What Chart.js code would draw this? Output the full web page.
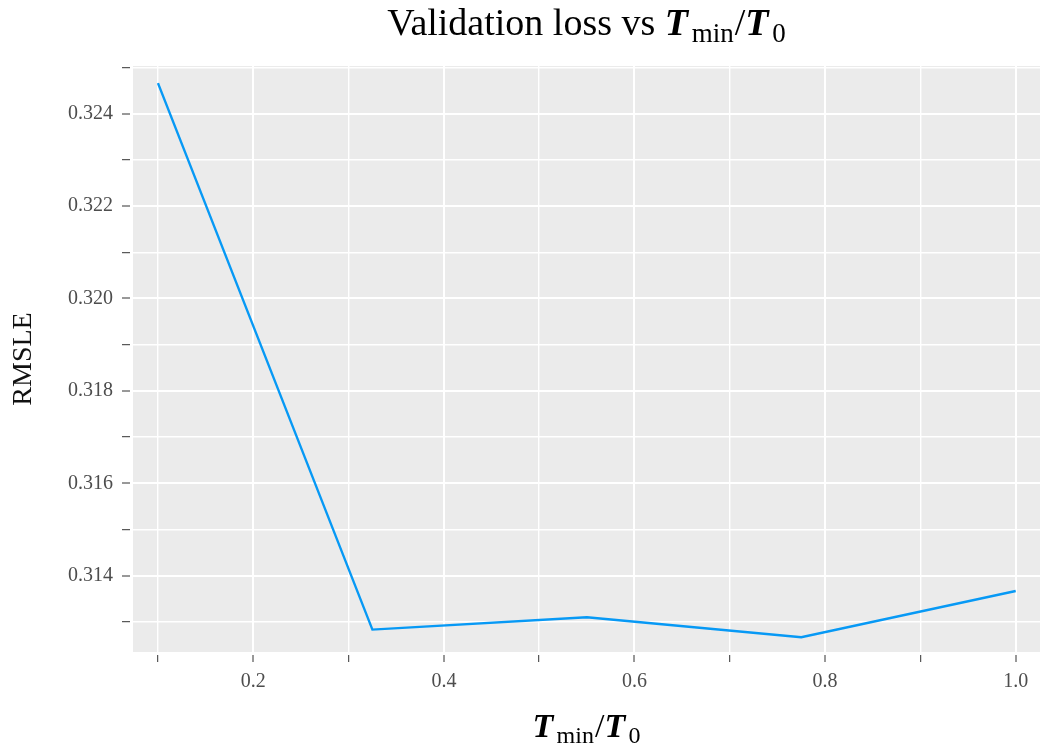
<!DOCTYPE html>
<html>
<head>
<meta charset="utf-8">
<title>Validation loss</title>
<script src="https://cdn.jsdelivr.net/npm/chart.js"></script>
<style>
  body { margin: 0; background: #ffffff; }
  #wrap { position: relative; width: 1040px; height: 752px; }
</style>
</head>
<body>
<div id="wrap"><canvas id="canvas"></canvas></div>
<script>
// T_min / T_0 ratios and validation RMSLE
var ratios = [0.1, 0.325, 0.55, 0.775, 1.0];
var rmsle = [0.32466, 0.312835, 0.313101, 0.312669, 0.313669];

var serif = "'Liberation Serif', 'DejaVu Serif', serif";

// draws pieces of text one after another, centred on cx
function drawRich(ctx, parts, cx, baseline) {
    var total = 0;
    parts.forEach(function (p) {
        ctx.font = p.font;
        p.w = ctx.measureText(p.text).width;
        total += p.w + (p.gap || 0);
    });
    var x = cx - total / 2;
    ctx.save();
    ctx.fillStyle = '#000000';
    ctx.textBaseline = 'alphabetic';
    ctx.textAlign = 'left';
    parts.forEach(function (p) {
        x += p.gap || 0;
        ctx.font = p.font;
        ctx.fillText(p.text, x, baseline + (p.dy || 0));
        x += p.w;
    });
    ctx.restore();
}

function ratioParts(size) {
    var sub = Math.round(size * 0.7);
    var bi = 'italic bold ' + size + 'px ' + serif;
    var gap = size * 0.1;
    return [
        {text: 'T', font: bi},
        {text: 'min', font: sub + 'px ' + serif, dy: size * 0.18, gap: gap},
        {text: '/', font: size + 'px ' + serif, gap: 1},
        {text: 'T', font: bi},
        {text: '0', font: sub + 'px ' + serif, dy: size * 0.18, gap: gap}
    ];
}

var decor = {
    id: 'decor',
    beforeDraw: function (chart) {
        var a = chart.chartArea, ctx = chart.ctx;
        ctx.save();
        ctx.fillStyle = '#EBEBEB';
        ctx.fillRect(a.left, a.top, a.right - a.left, a.bottom - a.top);
        ctx.restore();
    },
    afterDraw: function (chart) {
        var a = chart.chartArea, ctx = chart.ctx;
        // small gap between panel and tick marks
        ctx.save();
        ctx.fillStyle = '#ffffff';
        ctx.fillRect(a.left - 3, a.top - 2, 3, a.bottom - a.top + 6);
        ctx.fillRect(a.left - 3, a.bottom, a.right - a.left + 6, 3);
        ctx.restore();
        var title = [{text: 'Validation loss vs ', font: '38px ' + serif}].concat(ratioParts(38));
        drawRich(ctx, title, (a.left + a.right) / 2, 35);
        drawRich(ctx, ratioParts(34), (a.left + a.right) / 2, 737);
    }
};

function majorY(v) { return Math.round(v * 1000) % 2 === 0; }
function majorX(v) { return Math.round(v * 10) % 2 === 0; }

new Chart(document.getElementById('canvas'), {
    type: 'line',
    data: {
        datasets: [{
            data: ratios.map(function (r, i) { return {x: r, y: rmsle[i]}; }),
            borderColor: '#0799F5',
            borderWidth: 2.4,
            pointRadius: 0,
            tension: 0,
            fill: false
        }]
    },
    options: {
        responsive: true,
        maintainAspectRatio: false,
        animation: false,
        layout: {padding: {top: 66, left: 0, right: 0, bottom: 0}},
        plugins: {legend: {display: false}, tooltip: {enabled: false}},
        scales: {
            x: {
                type: 'linear',
                min: 0.0738,
                max: 1.0255,
                afterFit: function (s) { s.height = 100; },
                border: {display: false},
                grid: {
                    color: '#ffffff',
                    lineWidth: function (c) { return majorX(c.tick.value) ? 2 : 1.4; },
                    tickColor: '#333333',
                    tickWidth: 1,
                    tickLength: 10
                },
                ticks: {
                    stepSize: 0.1,
                    includeBounds: false,
                    autoSkip: false,
                    maxRotation: 0,
                    padding: 8,
                    color: '#4d4d4d',
                    font: {family: serif, size: 20},
                    callback: function (v) { return majorX(v) ? v.toFixed(1) : ''; }
                }
            },
            y: {
                min: 0.31235,
                max: 0.32503,
                afterFit: function (s) { s.width = 133; },
                border: {display: false},
                grid: {
                    color: '#ffffff',
                    lineWidth: function (c) { return majorY(c.tick.value) ? 2 : 1.4; },
                    tickColor: '#333333',
                    tickWidth: 1,
                    tickLength: 11
                },
                ticks: {
                    stepSize: 0.001,
                    includeBounds: false,
                    autoSkip: false,
                    padding: 9,
                    color: '#4d4d4d',
                    font: {family: serif, size: 20},
                    callback: function (v) { return majorY(v) ? v.toFixed(3) : ''; }
                },
                title: {
                    display: true,
                    text: 'RMSLE',
                    color: '#111111',
                    font: {family: serif, size: 28},
                    padding: {top: 7, bottom: 0}
                }
            }
        }
    },
    plugins: [decor]
});
</script>
</body>
</html>
